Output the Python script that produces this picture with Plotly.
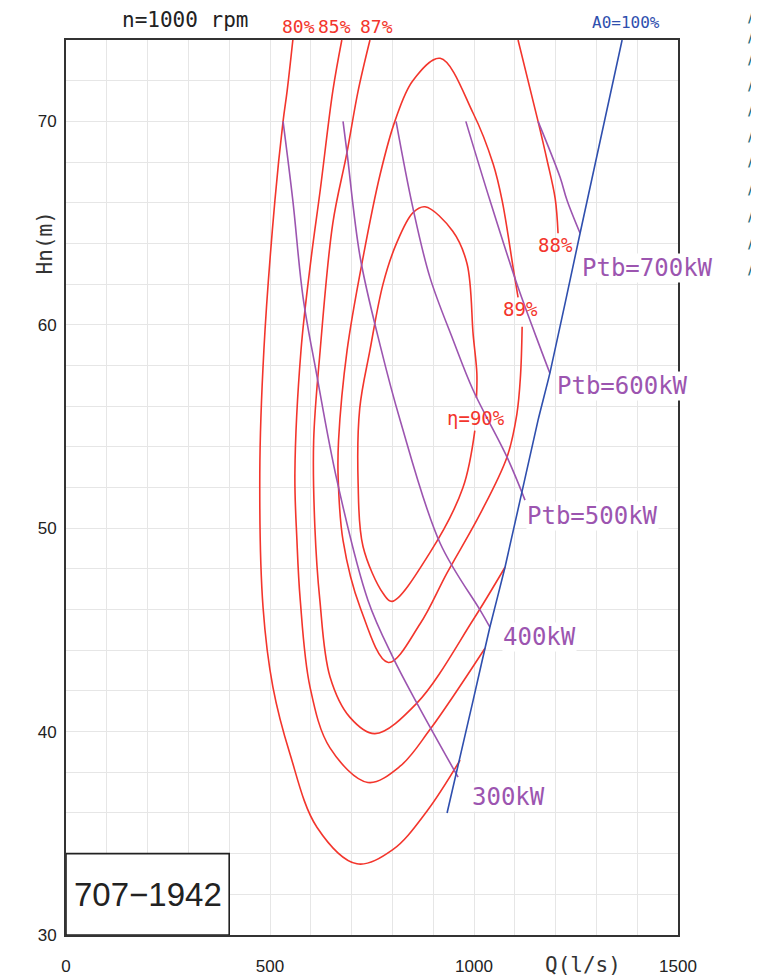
import plotly.graph_objects as go

# ---------------- data (Q in l/s, Hn in m) ----------------
# efficiency contours
eff80_Q = [556, 542, 532, 512, 485, 475, 483, 507, 549, 615, 713, 801, 885, 966]
eff80_H = [74, 71.5, 70, 66.1, 58.75, 52.7, 46.1, 42.2, 38.9, 35.3, 33.5, 34.2, 36.1, 38.6]

eff85_Q = [676, 654, 623, 601, 576, 561, 566, 574, 598, 647, 740, 819, 892, 1027]
eff85_H = [74, 71.5, 66.6, 63.3, 58.75, 52.7, 49.4, 46.5, 42.2, 39.2, 37.5, 38.3, 40.1, 44.1]

eff87_Q = [745, 716, 688, 654, 623, 607, 610, 622, 647, 696, 757, 860, 998, 1076]
eff87_H = [74, 71.5, 68.4, 65.0, 58.75, 54.3, 50.05, 46.5, 42.7, 40.7, 39.9, 41.4, 45.5, 48.08]

eff88_Q = [1108, 1157, 1179, 1199, 1206]
eff88_H = [74, 70, 68.1, 66.2, 64.5]

eff89_Q = [1118, 1114, 1105, 1081, 1015, 934, 868, 790, 721, 679, 667, 668, 689, 728, 770, 806,
           850, 917, 998, 1047, 1069, 1096, 1108]
eff89_H = [59.9, 57.5, 55.6, 53.5, 50.7, 47.8, 45.3, 43.4, 46.1, 49.4, 52.5, 54.3, 58.75, 63.3, 67.4, 70.0,
           72.0, 73.1, 70.4, 67.9, 66.1, 62.8, 61.35]

eff90_Q = [1002, 973, 892, 799, 777, 728, 716, 720, 745, 777, 810, 850, 880, 948, 983, 998, 1007, 1006]
eff90_H = [54.8, 52.0, 48.8, 46.4, 46.8, 49.1, 52.2, 55.9, 58.75, 62.0, 64.0, 65.5, 65.8, 64.6, 63.0, 59.5, 57.6, 56.4]

# shaft power lines
p300_Q = [532, 556, 581, 614, 664, 740, 801, 860, 961]
p300_H = [70, 66.1, 61.35, 57.6, 52.36, 46.46, 43.66, 41.4, 37.76]

p400_Q = [679, 689, 721, 770, 819, 917, 1015, 1039]
p400_H = [70, 68.43, 63.32, 58.99, 55.31, 49.26, 45.97, 45.14]

p500_Q = [809, 850, 892, 949, 998, 1081, 1125]
p500_H = [70, 65.77, 62.33, 59.24, 56.78, 53.49, 51.38]

p600_Q = [980, 1039, 1108, 1162, 1186]
p600_H = [70, 66.12, 61.84, 58.89, 57.62]

p700_Q = [1157, 1211, 1228, 1260]
p700_H = [70, 67.25, 66.12, 64.5]

# opening limit line A0 = 100%
a0_Q = [934, 998, 1039, 1076, 1157, 1186, 1260, 1363]
a0_H = [36.0, 41.55, 45.14, 48.08, 55.31, 57.62, 64.5, 74]

x_ticks = [0, 500, 1000, 1500]
y_ticks = [30, 40, 50, 60, 70]

eff_labels = ["80%", "85%", "87%"]
eff_label_Q = [569, 659, 760]

power_labels = ["Ptb=700kW", "Ptb=600kW", "Ptb=500kW", "400kW", "300kW"]
power_label_Q = [1262, 1201, 1127, 1069, 993]
power_label_H = [62.78, 56.98, 50.59, 44.64, 36.78]

inner_labels = ["89%", "88%", "η=90%"]
inner_label_Q = [1115, 1199, 1005]
inner_label_H = [60.8, 63.9, 55.4]

RED = "#f3352c"
PURPLE = "#9c55b0"
BLUE = "#2f4fae"
TEAL = "#1c6b7a"
CAD = "DejaVu Sans Mono"

# page body has an 8px margin: figure is sized/offset to land on the reference pixels
OFF = 8
W, Hpx = 759 - OFF, 978 - OFF
ML, MR, MT, MB = 66 - OFF, 81, 40 - OFF, 43

fig = go.Figure()

def add_line(q, h, color, smooth=1.0):
    fig.add_trace(go.Scatter(x=q, y=h, mode="lines",
                             line=dict(color=color, width=1.6, shape="spline", smoothing=smooth),
                             hoverinfo="skip", showlegend=False))

for q, h in [(eff80_Q, eff80_H), (eff85_Q, eff85_H), (eff87_Q, eff87_H),
             (eff88_Q, eff88_H), (eff89_Q, eff89_H), (eff90_Q, eff90_H)]:
    add_line(q, h, RED)

for q, h in [(p300_Q, p300_H), (p400_Q, p400_H), (p500_Q, p500_H),
             (p600_Q, p600_H), (p700_Q, p700_H)]:
    add_line(q, h, PURPLE)

add_line(a0_Q, a0_H, BLUE, smooth=0.5)

# box with type label
fig.add_shape(type="rect", x0=0, x1=400, y0=30, y1=34, xref="x", yref="y",
              line=dict(color="#222", width=1.6), fillcolor="white", layer="above")
fig.add_annotation(x=200, y=32, xref="x", yref="y", text="707−1942", showarrow=False,
                   font=dict(family="Liberation Sans", size=33, color="#222"))

# top labels
for t, q in zip(eff_labels, eff_label_Q):
    fig.add_annotation(x=q, y=74, xref="x", yref="y", text=t, showarrow=False,
                       yanchor="middle", yshift=14, font=dict(family=CAD, size=18, color=RED))
fig.add_annotation(x=1373, y=74, xref="x", yref="y", text="A0=100%", showarrow=False,
                   yanchor="middle", yshift=18, font=dict(family=CAD, size=16, color=BLUE))
fig.add_annotation(x=292, y=74, xref="x", yref="y", text="n=1000 rpm", showarrow=False,
                   yanchor="middle", yshift=20, font=dict(family=CAD, size=21, color="#222"))

for t, q, h in zip(power_labels, power_label_Q, power_label_H):
    fig.add_annotation(x=q, y=h, xref="x", yref="y", text=t, showarrow=False,
                       xanchor="left", yanchor="middle", bgcolor="white", borderpad=0,
                       font=dict(family=CAD, size=24, color=PURPLE))

for t, q, h in zip(inner_labels, inner_label_Q, inner_label_H):
    fig.add_annotation(x=q, y=h, xref="x", yref="y", text=t, showarrow=False,
                       xanchor="center", yanchor="middle",
                       font=dict(family=CAD, size=19, color=RED))

# axis titles
fig.add_annotation(x=1267, y=0, xref="x", yref="paper", text="Q(l/s)", showarrow=False,
                   yanchor="middle", yshift=-30, font=dict(family=CAD, size=21, color="#333"))
fig.add_annotation(x=0, y=64.0, xref="paper", yref="y", text="Hn(m)", showarrow=False,
                   textangle=-90, xanchor="center", xshift=-21,
                   font=dict(family=CAD, size=21, color="#333"))

# stray teal marks at the right edge
plot_w = W - ML - MR
plot_h = Hpx - MT - MB
for py in [17, 37, 60, 85, 110, 136, 162, 189, 216, 243, 269]:
    fig.add_annotation(x=(750 - 66) / plot_w, y=(935 - py) / plot_h, xref="paper", yref="paper",
                       text="<b>/</b>", showarrow=False, xanchor="center", yanchor="middle",
                       font=dict(family="DejaVu Sans", size=13, color=TEAL))

fig.update_layout(
    width=W, height=Hpx,
    margin=dict(l=ML, r=MR, t=MT, b=MB, autoexpand=False),
    plot_bgcolor="white", paper_bgcolor="white",
    showlegend=False,
    xaxis=dict(range=[0, 1500], tickvals=x_ticks, ticktext=[str(v) for v in x_ticks],
               showgrid=True, gridcolor="#e6e6e6", gridwidth=1,
               minor=dict(dtick=100, tick0=0, showgrid=True, gridcolor="#e6e6e6", gridwidth=1),
               showline=True, linecolor="#333", linewidth=2, mirror=True,
               zeroline=False, ticks="", ticklabelstandoff=15, automargin=False,
               tickfont=dict(family="Liberation Sans", size=17, color="#222")),
    yaxis=dict(range=[30, 74], tickvals=y_ticks, ticktext=[str(v) for v in y_ticks],
               showgrid=True, gridcolor="#e6e6e6", gridwidth=1,
               minor=dict(dtick=2, tick0=30, showgrid=True, gridcolor="#e6e6e6", gridwidth=1),
               showline=True, linecolor="#333", linewidth=2, mirror=True,
               zeroline=False, ticks="", ticklabelstandoff=4, automargin=False,
               tickfont=dict(family="Liberation Sans", size=17, color="#222")),
)

fig.write_html("out.html")
